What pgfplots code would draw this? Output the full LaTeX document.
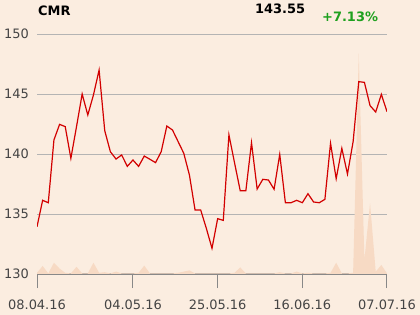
\documentclass[border=0pt]{standalone}
\usepackage{pgfplots}
\pgfplotsset{compat=1.18}
\usepackage{fontspec}
\setmainfont{DejaVu Sans}
\definecolor{bgc}{RGB}{251,237,224}
\definecolor{volc}{RGB}{247,218,196}
\definecolor{linec}{RGB}{210,0,0}
\definecolor{gridc}{RGB}{180,180,180}
\definecolor{axc}{RGB}{136,136,136}
\definecolor{labc}{RGB}{68,68,68}
\definecolor{greenc}{RGB}{30,160,30}
\begin{document}
\begin{tikzpicture}
\fill[bgc] (0,0) rectangle (420bp,315bp);
\begin{axis}[
  at={(37bp,41bp)}, anchor=south west,
  scale only axis, width=350bp, height=240bp,
  xmin=0, xmax=62, ymin=130, ymax=150,
  axis x line*=bottom, axis y line*=left,
  y axis line style={draw=none},
  x axis line style={draw=axc, line width=1.2bp},
  ytick={130,135,140,145,150},
  ymajorgrids, grid style={gridc, line width=0.9bp},
  ytick style={draw=none},
  xtick={0,17,32,47,62},
  xticklabels={08.04.16,04.05.16,25.05.16,16.06.16,07.07.16},
  xtick style={draw=axc, line width=1bp},
  tick align=outside, major tick length=14bp,
  /pgf/number format/assume math mode=true,
  ticklabel style={font=\fontsize{13}{13}\selectfont, text=labc},
  yticklabel style={anchor=east, inner sep=0pt, xshift=6bp},
  xticklabel style={yshift=-8bp},
  clip=true,
]
\addplot[fill=volc, draw=none] table {
x y
0 130.0
0 130.1
1 130.67
2 130.05
3 130.94
4 130.45
5 130.1
6 130.05
7 130.6
8 130.05
9 130.05
10 130.94
11 130.1
12 130.15
13 130.05
14 130.2
15 130.05
16 130.05
17 130.05
18 130.1
19 130.7
20 130.05
21 130.05
22 130.05
23 130.05
24 130.05
25 130.1
26 130.2
27 130.3
28 130.05
29 130.05
30 130.05
31 130.05
32 130.05
33 130.05
34 130.05
35 130.1
36 130.55
37 130.05
38 130.05
39 130.05
40 130.05
41 130.05
42 130.05
43 130.15
44 130.05
45 130.05
46 130.2
47 130.05
48 130.1
49 130.05
50 130.05
51 130.05
52 130.1
53 130.94
54 130.05
55 130.05
56 130.1
57 148.4
58 131.17
59 135.9
60 130.2
61 130.75
62 130.05
62 130.0
} -- cycle;
\addplot[linec, line width=1.2bp] table {
x y
0 133.94
1 136.14
2 135.94
3 141.17
4 142.47
5 142.28
6 139.64
7 142.28
8 145.0
9 143.25
10 144.92
11 147.0
12 141.94
13 140.19
14 139.58
15 139.92
16 138.97
17 139.5
18 138.97
19 139.83
20 139.56
21 139.28
22 140.19
23 142.33
24 142.0
25 141.03
26 140.06
27 138.25
28 135.33
29 135.33
30 133.8
31 132.14
32 134.61
33 134.47
34 141.6
35 139.25
36 136.94
37 136.94
38 140.94
39 137.08
40 137.89
41 137.83
42 137.06
43 139.97
44 135.94
45 135.94
46 136.14
47 135.94
48 136.69
49 136.0
50 135.94
51 136.22
52 140.89
53 137.94
54 140.47
55 138.33
56 141.03
57 146.03
58 145.97
59 144.03
60 143.5
61 144.97
62 143.53
};
\end{axis}
\node[anchor=base west, inner sep=0pt, font=\fontsize{13}{13}\selectfont\bfseries] at (38bp,299bp) {CMR};
\node[anchor=base west, inner sep=0pt, font=\fontsize{13}{13}\selectfont\bfseries] at (255bp,301bp) {143.55};
\node[anchor=base west, inner sep=0pt, font=\fontsize{13}{13}\selectfont\bfseries, text=greenc] at (322bp,293.5bp) {+7.13\%};
\pgfresetboundingbox
\path[use as bounding box] (0,0) rectangle (420bp,315bp);
\end{tikzpicture}
\end{document}
